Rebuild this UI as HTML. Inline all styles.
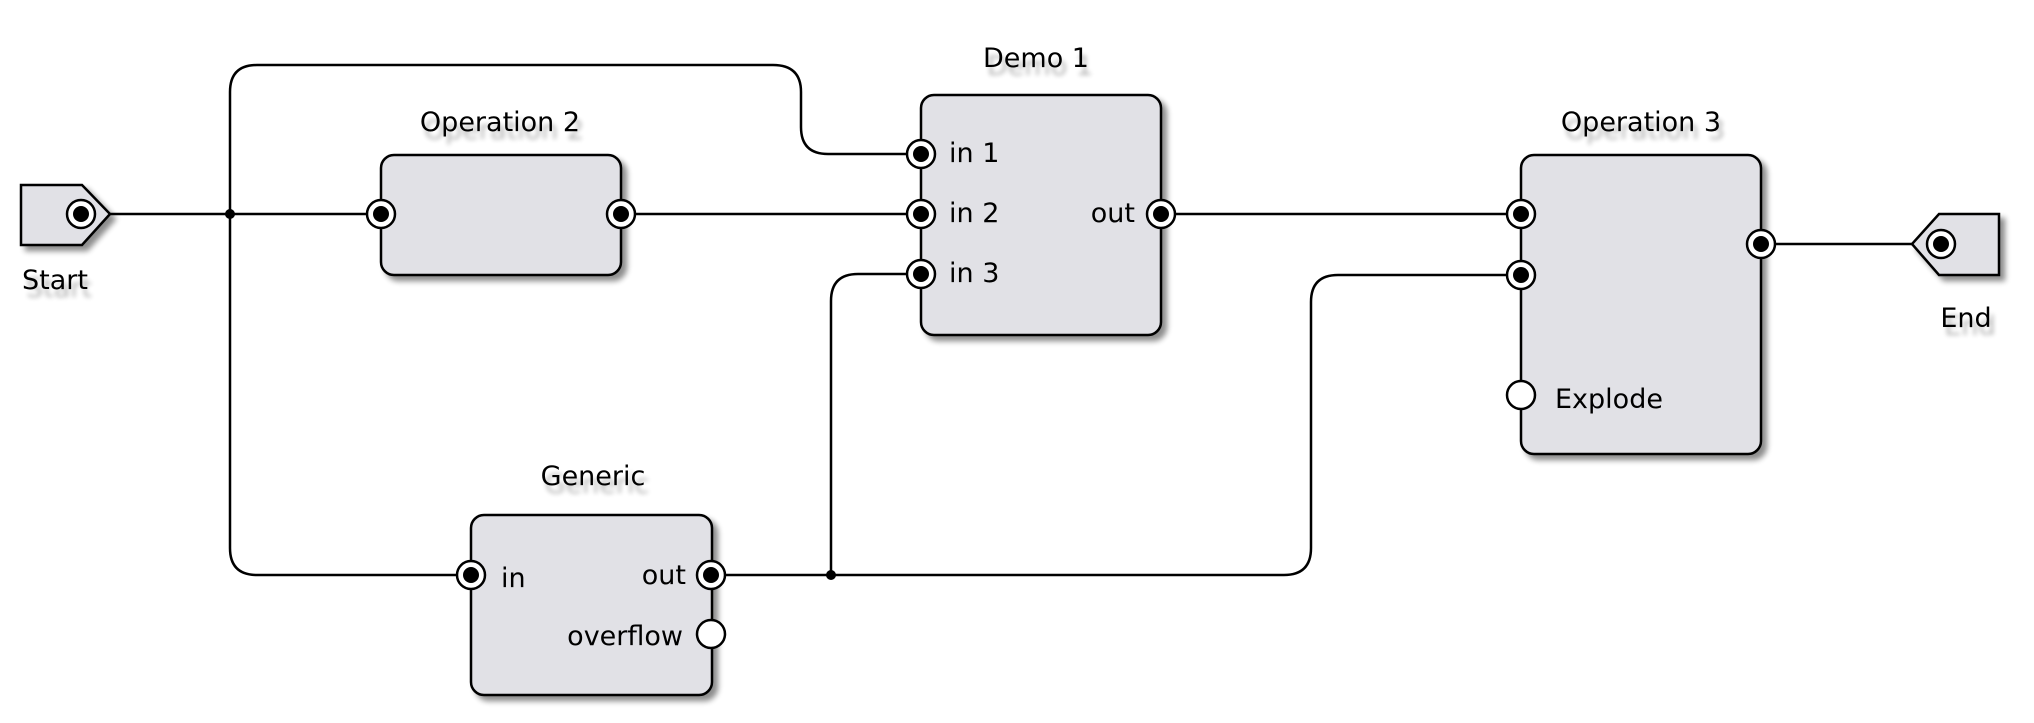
<!DOCTYPE html>
<html><head><meta charset="utf-8"><style>
html,body{margin:0;padding:0;background:#fff;}
svg{display:block;}
text{font-family:"DejaVu Sans","Liberation Sans",sans-serif;font-size:27px;fill:#000;}
</style></head><body>
<svg width="2034" height="723" viewBox="0 0 2034 723" xmlns="http://www.w3.org/2000/svg">
<defs>
<filter id="sh" x="-10%" y="-10%" width="130%" height="130%"><feGaussianBlur in="SourceAlpha" stdDeviation="3"/><feOffset dx="5" dy="5"/><feComponentTransfer><feFuncA type="linear" slope="0.45"/></feComponentTransfer><feMerge><feMergeNode/><feMergeNode in="SourceGraphic"/></feMerge></filter>
<filter id="ts" x="-10%" y="-20%" width="130%" height="160%"><feGaussianBlur in="SourceAlpha" stdDeviation="2.5"/><feOffset dx="4" dy="8"/><feComponentTransfer><feFuncA type="linear" slope="0.3"/></feComponentTransfer><feMerge><feMergeNode/><feMergeNode in="SourceGraphic"/></feMerge></filter>
</defs>
<g fill="none" stroke="#000" stroke-width="2.5">
<!-- connectors -->
<line x1="110" y1="214" x2="381" y2="214"/>
<line x1="621" y1="214" x2="921" y2="214"/>
<line x1="1161" y1="214" x2="1521" y2="214"/>
<line x1="1761" y1="244" x2="1912" y2="244"/>
<path d="M230 214 V92 Q230 65 257 65 H773 Q801 65 801 92 V127 Q801 154 828 154 H921"/>
<path d="M230 214 V548 Q230 575 257 575 H471"/>
<path d="M711 575 H1284 Q1311 575 1311 548 V302 Q1311 275 1338 275 H1521"/>
<path d="M831 575 V301 Q831 274 858 274 H921"/>
</g>
<circle cx="230" cy="214" r="5"/>
<circle cx="831" cy="575" r="5"/>
<!-- boxes -->
<g fill="#e1e1e6" stroke="#000" stroke-width="2.5" filter="url(#sh)">
<rect x="381" y="155" width="240" height="120" rx="13"/>
<rect x="921" y="95" width="240" height="240" rx="13"/>
<rect x="1521" y="155" width="240" height="299" rx="13"/>
<rect x="471" y="515" width="241" height="180" rx="13"/>
<path d="M21 185 H82 L110 214 L82 245 H21 Z"/>
<path d="M1999 214 H1939 L1912 244 L1939 275 H1999 Z"/>
</g>
<!-- ports -->
<g stroke="#000" stroke-width="2.5">
<g fill="#fff">
<circle cx="81" cy="214" r="14"/>
<circle cx="381" cy="214" r="14"/>
<circle cx="621" cy="214" r="14"/>
<circle cx="921" cy="154" r="14"/>
<circle cx="921" cy="214" r="14"/>
<circle cx="921" cy="274" r="14"/>
<circle cx="1161" cy="214" r="14"/>
<circle cx="1521" cy="214" r="14"/>
<circle cx="1521" cy="275" r="14"/>
<circle cx="1521" cy="395" r="14"/>
<circle cx="1761" cy="244" r="14"/>
<circle cx="1941" cy="244" r="14"/>
<circle cx="471" cy="575" r="14"/>
<circle cx="711" cy="575" r="14"/>
<circle cx="711" cy="634" r="14"/>
</g>
</g>
<g fill="#000">
<circle cx="81" cy="214" r="8"/>
<circle cx="381" cy="214" r="8"/>
<circle cx="621" cy="214" r="8"/>
<circle cx="921" cy="154" r="8"/>
<circle cx="921" cy="214" r="8"/>
<circle cx="921" cy="274" r="8"/>
<circle cx="1161" cy="214" r="8"/>
<circle cx="1521" cy="214" r="8"/>
<circle cx="1521" cy="275" r="8"/>
<circle cx="1761" cy="244" r="8"/>
<circle cx="1941" cy="244" r="8"/>
<circle cx="471" cy="575" r="8"/>
<circle cx="711" cy="575" r="8"/>
</g>
<!-- titles -->
<g filter="url(#ts)">
<text x="22" y="289">Start</text>
<text x="1966" y="327" text-anchor="middle">End</text>
<text x="500" y="131" text-anchor="middle">Operation 2</text>
<text x="1036" y="67" text-anchor="middle">Demo 1</text>
<text x="1641" y="131" text-anchor="middle">Operation 3</text>
<text x="593" y="485" text-anchor="middle">Generic</text>
</g>
<!-- port labels -->
<text x="949" y="162">in 1</text>
<text x="949" y="222">in 2</text>
<text x="949" y="282">in 3</text>
<text x="1135" y="222" text-anchor="end">out</text>
<text x="1555" y="408">Explode</text>
<text x="501" y="587">in</text>
<text x="686" y="584" text-anchor="end">out</text>
<text x="683" y="645" text-anchor="end">overflow</text>
</svg>
</body></html>
